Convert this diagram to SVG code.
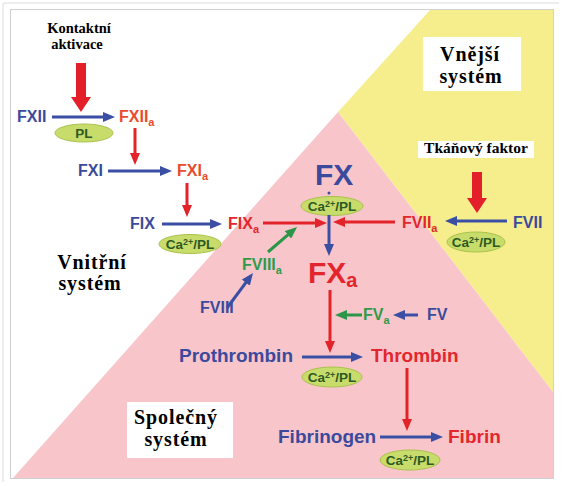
<svg xmlns="http://www.w3.org/2000/svg" width="562" height="486" viewBox="0 0 562 486">
<style>
.lbl{font-family:"Liberation Sans",Arial,sans-serif;font-weight:bold}
.blue{fill:#3b4a9c}
.red{fill:#e3262d}
.ored{fill:#ea4a2c}
.green{fill:#2f9a4a}
.sys{font-family:"Liberation Serif","Times New Roman",serif;font-weight:bold;fill:#000;text-anchor:middle}
.big{font-size:20px;letter-spacing:0.9px}
.ell{fill:#c8dc6c;stroke:#a9c24a;stroke-width:1}
.etxt{font-family:"Liberation Sans",Arial,sans-serif;font-weight:bold;font-size:13.5px;fill:#2d5a23;text-anchor:middle}
.ab{stroke:#3a4fa3;stroke-width:3;fill:none;marker-end:url(#hb)}
.ar{stroke:#e3232a;stroke-width:3;fill:none;marker-end:url(#hr)}
.ag{stroke:#2b9648;stroke-width:3;fill:none;marker-end:url(#hg)}
</style>
<defs>
<marker id="hb" markerUnits="userSpaceOnUse" markerWidth="12" markerHeight="10" refX="6" refY="5" orient="auto"><path d="M0,0 L12,5 L0,10 z" fill="#3a4fa3"/></marker>
<marker id="hr" markerUnits="userSpaceOnUse" markerWidth="12" markerHeight="10" refX="6" refY="5" orient="auto"><path d="M0,0 L12,5 L0,10 z" fill="#e3232a"/></marker>
<marker id="hg" markerUnits="userSpaceOnUse" markerWidth="12" markerHeight="10" refX="6" refY="5" orient="auto"><path d="M0,0 L12,5 L0,10 z" fill="#2b9648"/></marker>
</defs>
<rect x="0" y="0" width="562" height="486" fill="#fff"/>
<g id="background">
<path d="M3,482 L3,3 L559,3" fill="none" stroke="#dcdcdc" stroke-width="1"/>
<rect x="10.5" y="9.5" width="543" height="469" fill="#fff" stroke="#d0d0d0" stroke-width="1"/>
<polygon points="430,10 553,10 553,392 338,112" fill="#f6ee8c"/>
<polygon points="13,478 338,112 553,392 553,478" fill="#f8c6ca"/>
</g>
<g id="sys-labels">
<g id="kontaktni">
<text class="sys" x="79" y="33" font-size="14.5">Kontaktní</text>
<text class="sys" x="77" y="49" font-size="14.5">aktivace</text>
<polygon points="76,63 86,63 86,97 91,97 81,112 71,97 76,97" fill="#e3202a"/>
</g>
<g id="vnejsi">
<rect x="423" y="37" width="98" height="54" fill="#fff"/>
<text class="sys big" x="470" y="61">Vnější</text>
<text class="sys big" x="471" y="83">systém</text>
</g>
<g id="tkanovy">
<rect x="418" y="141" width="116" height="17" fill="#fff"/>
<text class="sys" x="476" y="153" font-size="15.5">Tkáňový faktor</text>
<polygon points="472,172 482,172 482,198 487,198 477,213 467,198 472,198" fill="#e3202a"/>
</g>
<g id="vnitrni">
<text class="sys big" x="92" y="269">Vnitřní</text>
<text class="sys big" x="90" y="290">systém</text>
</g>
<g id="spolecny">
<rect x="127" y="402" width="106" height="56" fill="#fff"/>
<text class="sys big" x="176" y="424">Společný</text>
<text class="sys big" x="176" y="446">systém</text>
</g>
</g>
<g id="nodes">
<g id="FXII"><text class="lbl blue" x="17" y="122" font-size="16">FXII</text></g>
<g id="FXIIa"><text class="lbl ored" x="119" y="122" font-size="16">FXII<tspan font-size="11" dy="4">a</tspan></text></g>
<g id="PL1"><ellipse class="ell" cx="84" cy="133" rx="29" ry="9"/><text class="etxt" x="84" y="138">PL</text></g>
<g id="FXI"><text class="lbl blue" x="78" y="176" font-size="16">FXI</text></g>
<g id="FXIa"><text class="lbl ored" x="177" y="176" font-size="16">FXI<tspan font-size="11" dy="4">a</tspan></text></g>
<g id="FIX"><text class="lbl blue" x="130" y="229" font-size="16">FIX</text></g>
<g id="FIXa"><text class="lbl red" x="228" y="229" font-size="16">FIX<tspan font-size="11" dy="4">a</tspan></text></g>
<g id="CaPL1"><ellipse class="ell" cx="190" cy="244" rx="31" ry="9.5"/><text class="etxt" x="190" y="249">Ca<tspan font-size="9" dy="-4.5">2+</tspan><tspan dy="4.5">/PL</tspan></text></g>
<g id="FVIII"><text class="lbl blue" x="200" y="313" font-size="16">FVIII</text></g>
<g id="FVIIIa"><text class="lbl green" x="242" y="270" font-size="16">FVIII<tspan font-size="11" dy="4">a</tspan></text></g>
<g id="FX"><text class="lbl blue" x="315" y="185" font-size="30">FX</text></g>
<g id="CaPL2"><ellipse class="ell" cx="332" cy="206" rx="31" ry="9.5"/><text class="etxt" x="332" y="211">Ca<tspan font-size="9" dy="-4.5">2+</tspan><tspan dy="4.5">/PL</tspan></text></g>
<g id="FVIIa"><text class="lbl red" x="402" y="228" font-size="16">FVII<tspan font-size="11" dy="4">a</tspan></text></g>
<g id="FVII"><text class="lbl blue" x="513" y="228" font-size="16">FVII</text></g>
<g id="CaPL3"><ellipse class="ell" cx="476" cy="242" rx="29" ry="10"/><text class="etxt" x="476" y="247">Ca<tspan font-size="9" dy="-4.5">2+</tspan><tspan dy="4.5">/PL</tspan></text></g>
<g id="FXa"><text class="lbl red" x="308" y="283" font-size="30">FX<tspan font-size="20" dy="4">a</tspan></text></g>
<g id="FVa"><text class="lbl green" x="363" y="320" font-size="16">FV<tspan font-size="11" dy="4">a</tspan></text></g>
<g id="FV"><text class="lbl blue" x="427" y="320" font-size="16">FV</text></g>
<g id="Prothrombin"><text class="lbl blue" x="179" y="362" font-size="19">Prothrombin</text></g>
<g id="Thrombin"><text class="lbl red" x="371" y="362" font-size="19">Thrombin</text></g>
<g id="CaPL4"><ellipse class="ell" cx="332" cy="377" rx="30" ry="10"/><text class="etxt" x="332" y="382">Ca<tspan font-size="9" dy="-4.5">2+</tspan><tspan dy="4.5">/PL</tspan></text></g>
<g id="Fibrinogen"><text class="lbl blue" x="278" y="443" font-size="19">Fibrinogen</text></g>
<g id="Fibrin"><text class="lbl red" x="448" y="443" font-size="19">Fibrin</text></g>
<g id="CaPL5"><ellipse class="ell" cx="410" cy="460" rx="30" ry="10"/><text class="etxt" x="410" y="465">Ca<tspan font-size="9" dy="-4.5">2+</tspan><tspan dy="4.5">/PL</tspan></text></g>
</g>
<g id="connectors">
<line class="ab" x1="52" y1="117" x2="109" y2="117"/>
<line class="ab" x1="108" y1="171" x2="166" y2="171"/>
<line class="ab" x1="162" y1="224" x2="216" y2="224"/>
<line class="ab" x1="329" y1="215" x2="329" y2="250"/>
<line class="ab" x1="227" y1="308" x2="249.4" y2="277.8"/>
<line class="ab" x1="418" y1="315" x2="399" y2="315"/>
<line class="ab" x1="302" y1="357" x2="357" y2="357"/>
<line class="ab" x1="380" y1="437" x2="437" y2="437"/>
<line class="ab" x1="507" y1="221" x2="451" y2="221"/>
<line class="ar" x1="135" y1="128" x2="135" y2="159"/>
<line class="ar" x1="187" y1="183" x2="187" y2="211"/>
<line class="ar" x1="263" y1="223" x2="321" y2="223"/>
<line class="ar" x1="395" y1="222" x2="339" y2="222"/>
<line class="ar" x1="330" y1="290" x2="330" y2="347"/>
<line class="ar" x1="407" y1="368" x2="407" y2="425"/>
<line class="ag" x1="268" y1="252" x2="292.5" y2="230.9"/>
<line class="ag" x1="362" y1="315" x2="341" y2="315"/>
<circle cx="329" cy="193" r="1.5" fill="#3a4fa3"/>
</g>
</svg>
